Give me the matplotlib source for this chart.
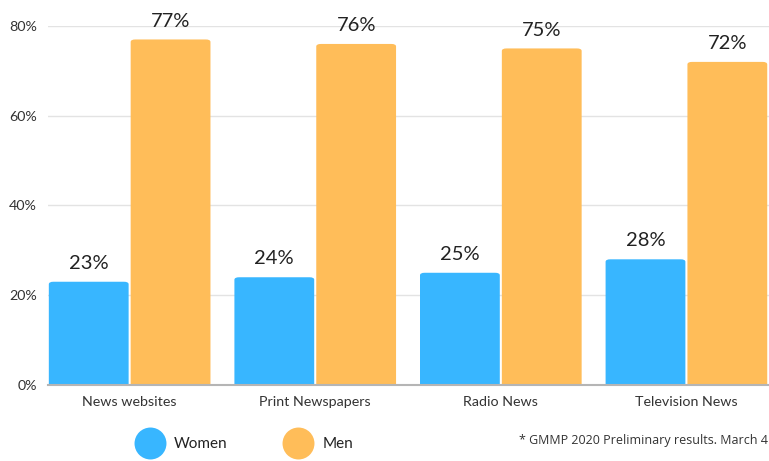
import numpy as np
import matplotlib.pyplot as plt
from matplotlib.patches import FancyBboxPatch
from matplotlib.lines import Line2D
from matplotlib.ticker import FuncFormatter

plt.rcParams['font.family'] = ['Lato', 'DejaVu Sans']

categories = ['News websites', 'Print Newspapers', 'Radio News', 'Television News']
women = [23, 24, 25, 28]
men = [77, 76, 75, 72]
series_names = ['Women', 'Men']
note = '* GMMP 2020 Preliminary results. March 4'

blue = '#38b6ff'
orange = '#ffbd59'

fig = plt.figure(figsize=(7.69, 4.61), dpi=100)
ax = fig.add_axes([0.0624, 0.165, 0.9376, 0.7786])

x = np.arange(len(categories))
w = 0.43
gap = 0.011


def rounded_bars(xs, vals, color):
    bars = ax.bar(xs, vals, w, color=color, alpha=0)
    for b in bars:
        # extend below 0 so the lower corners are clipped away
        p = FancyBboxPatch((b.get_x(), -3), b.get_width(), b.get_height() + 3,
                           boxstyle='round,pad=0,rounding_size=0.025',
                           mutation_aspect=22, facecolor=color,
                           edgecolor='none', clip_on=True)
        ax.add_patch(p)
    return bars


rounded_bars(x - w / 2 - gap / 2, women, blue)
rounded_bars(x + w / 2 + gap / 2, men, orange)

for xi, v in zip(x - w / 2 - gap / 2, women):
    ax.text(xi, v + 2.2, f'{v}%', ha='center', va='bottom', fontsize=14.5, color='#222222')
for xi, v in zip(x + w / 2 + gap / 2, men):
    ax.text(xi, v + 2.2, f'{v}%', ha='center', va='bottom', fontsize=14.5, color='#222222')

ax.set_xlim(-0.44, 3.445)
ax.set_ylim(0, 80)
ax.set_yticks([0, 20, 40, 60, 80])
ax.yaxis.set_major_formatter(FuncFormatter(lambda v, p: f'{v:.0f}%'))
ax.set_xticks(x)
ax.set_xticklabels(categories)
ax.tick_params(axis='both', length=0, labelsize=10.3, colors='#333333')
ax.tick_params(axis='x', pad=8)
ax.tick_params(axis='y', pad=8)
ax.grid(axis='y', color='#e3e3e3', linewidth=1)
ax.set_axisbelow(True)
for s in ['top', 'right', 'left']:
    ax.spines[s].set_visible(False)
ax.spines['bottom'].set_color('#b5b5b5')
ax.spines['bottom'].set_linewidth(1.5)
ax.spines['bottom'].set_zorder(5)

handles = [Line2D([], [], linestyle='none', marker='o', markersize=23,
                  markerfacecolor=c, markeredgecolor='none') for c in (blue, orange)]
fig.legend(handles, series_names, loc='center left', bbox_to_anchor=(0.157, 0.036),
           ncols=2, frameon=False, fontsize=11, handletextpad=0.6,
           columnspacing=3.6, labelcolor='#222222')

fig.text(0.675, 0.045, note, fontsize=9, color='#333333', ha='left', va='center',
         family=['Open Sans', 'DejaVu Sans'])

fig.savefig('out.png', dpi=100)
